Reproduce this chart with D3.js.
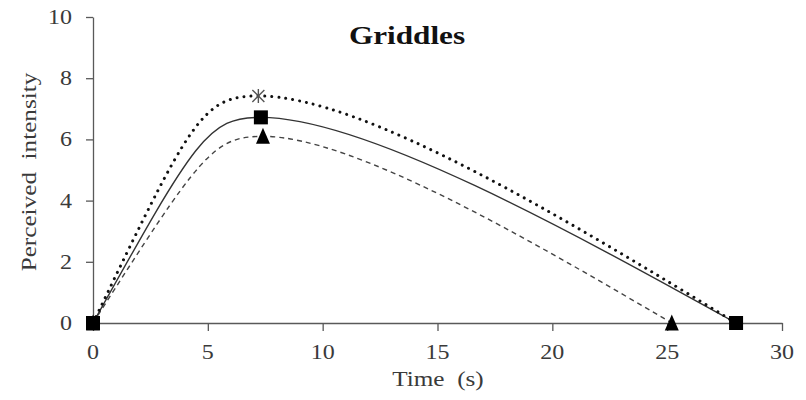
<!DOCTYPE html>
<html>
<head>
<meta charset="utf-8">
<script src="https://cdn.jsdelivr.net/npm/d3@7"></script>
<style>
  html, body { margin: 0; padding: 0; background: #fff; }
  svg { display: block; }
  text { font-family: "Liberation Serif", "Times New Roman", serif; }
</style>
</head>
<body>
<svg id="chart" width="806" height="400"></svg>
<script>
// Perceived intensity over time for three samples
const timeSquare = [0, 7.31, 28.0];
const intensitySquare = [0, 6.72, 0];
const timeStar = [0, 7.2, 28.0];
const intensityStar = [0, 7.42, 0];
const timeTriangle = [0, 7.4, 25.2];
const intensityTriangle = [0, 6.1, 0];

const xTicks = [0, 5, 10, 15, 20, 25, 30];
const yTicks = [0, 2, 4, 6, 8, 10];

const title = "Griddles";
const xTitle = "Time\u00a0\u00a0(s)";
const yTitle = "Perceived\u00a0\u00a0intensity";

const svg = d3.select("#chart");
const x = d3.scaleLinear().domain([0, 30]).range([93, 782]);
const y = d3.scaleLinear().domain([0, 10]).range([323, 17]);

const axisColor = "#595959";
const labelColor = "#3a3a3a";
const stretch = "scale(1.2,1)";

// axes
const gx = svg.append("g").attr("transform", `translate(0,${y(0)})`)
  .call(d3.axisBottom(x).tickValues(xTicks).tickSize(8).tickSizeOuter(0).tickFormat(""));
const gy = svg.append("g").attr("transform", `translate(${x(0)},0)`)
  .call(d3.axisLeft(y).tickValues(yTicks).tickSize(7).tickSizeOuter(0).tickFormat(""));
[gx, gy].forEach(g => {
  g.selectAll("path, line").attr("stroke", axisColor).attr("stroke-width", 1.3);
});

// tick labels
svg.append("g").selectAll("text").data(xTicks).join("text")
  .attr("transform", d => `translate(${x(d)},359) ${stretch}`)
  .attr("text-anchor", "middle")
  .attr("font-size", 20).attr("fill", labelColor)
  .text(d => d);
svg.append("g").selectAll("text").data(yTicks).join("text")
  .attr("transform", d => `translate(72,${y(d) + 7}) ${stretch}`)
  .attr("text-anchor", "end")
  .attr("font-size", 20).attr("fill", labelColor)
  .text(d => d);

// titles
svg.append("text")
  .attr("transform", `translate(407,44) ${stretch}`)
  .attr("text-anchor", "middle")
  .attr("font-size", 26).attr("font-weight", "bold").attr("fill", "#111")
  .text(title);
svg.append("text")
  .attr("transform", `translate(438,386) ${stretch}`)
  .attr("text-anchor", "middle")
  .attr("font-size", 21).attr("fill", labelColor)
  .text(xTitle);
svg.append("text")
  .attr("transform", `translate(36,172) rotate(-90) ${stretch}`)
  .attr("text-anchor", "middle")
  .attr("font-size", 21).attr("fill", labelColor)
  .text(yTitle);

// smoothed series line: Bezier segments built in screen space.
// Interior points get a tangent along the neighbour-to-neighbour chord,
// with handles proportional to the adjacent segment lengths; the first and
// last handles lean toward the neighbouring handle.
const handleFrac = 0.2, startPull = 0.9, endPull = 0.45;
function smoothPath(data) {
  const P = data.map(d => [x(d[0]), y(d[1])]);
  const n = P.length;
  const left = new Array(n), right = new Array(n);
  for (let i = 1; i < n - 1; i++) {
    const tx = P[i + 1][0] - P[i - 1][0], ty = P[i + 1][1] - P[i - 1][1];
    const tl = Math.hypot(tx, ty);
    const ux = tx / tl, uy = ty / tl;
    const dl = Math.hypot(P[i][0] - P[i - 1][0], P[i][1] - P[i - 1][1]);
    const dr = Math.hypot(P[i + 1][0] - P[i][0], P[i + 1][1] - P[i][1]);
    left[i] = [P[i][0] - ux * handleFrac * dl, P[i][1] - uy * handleFrac * dl];
    right[i] = [P[i][0] + ux * handleFrac * dr, P[i][1] + uy * handleFrac * dr];
  }
  const a = n > 2 ? left[1] : P[1];
  const b = n > 2 ? right[n - 2] : P[0];
  right[0] = [P[0][0] + startPull * (a[0] - P[0][0]), P[0][1] + startPull * (a[1] - P[0][1])];
  left[n - 1] = [P[n - 1][0] + endPull * (b[0] - P[n - 1][0]), P[n - 1][1] + endPull * (b[1] - P[n - 1][1])];
  const path = d3.path();
  path.moveTo(P[0][0], P[0][1]);
  for (let i = 0; i < n - 1; i++) {
    path.bezierCurveTo(right[i][0], right[i][1], left[i + 1][0], left[i + 1][1], P[i + 1][0], P[i + 1][1]);
  }
  return path.toString();
}
const pairs = (t, v) => t.map((d, i) => [d, v[i]]);

const starPts = pairs(timeStar, intensityStar);
const squarePts = pairs(timeSquare, intensitySquare);
const trianglePts = pairs(timeTriangle, intensityTriangle);

svg.append("path").attr("d", smoothPath(trianglePts))
  .attr("fill", "none").attr("stroke", "#444").attr("stroke-width", 1.4)
  .attr("stroke-dasharray", "5 4");
svg.append("path").attr("d", smoothPath(squarePts))
  .attr("fill", "none").attr("stroke", "#333").attr("stroke-width", 1.4);
svg.append("path").attr("d", smoothPath(starPts))
  .attr("fill", "none").attr("stroke", "#111").attr("stroke-width", 3)
  .attr("stroke-linecap", "round").attr("stroke-dasharray", "0.01 7");

// markers: asterisks underneath, then triangles, then squares
svg.append("g").selectAll("path").data(starPts).join("path")
  .attr("transform", d => `translate(${x(d[0])},${y(d[1])})`)
  .attr("d", "M-6,-6L6,6M-6,6L6,-6M0,-7L0,7")
  .attr("stroke", "#555").attr("stroke-width", 1.4).attr("fill", "none");
svg.append("g").selectAll("path").data(trianglePts).join("path")
  .attr("transform", d => `translate(${x(d[0])},${y(d[1])})`)
  .attr("d", "M0,-8.5L7,7.5L-7,7.5Z")
  .attr("fill", "#000");
svg.append("g").selectAll("rect").data(squarePts).join("rect")
  .attr("x", d => x(d[0]) - 7).attr("y", d => y(d[1]) - 7)
  .attr("width", 14).attr("height", 14)
  .attr("fill", "#000");
</script>
</body>
</html>
